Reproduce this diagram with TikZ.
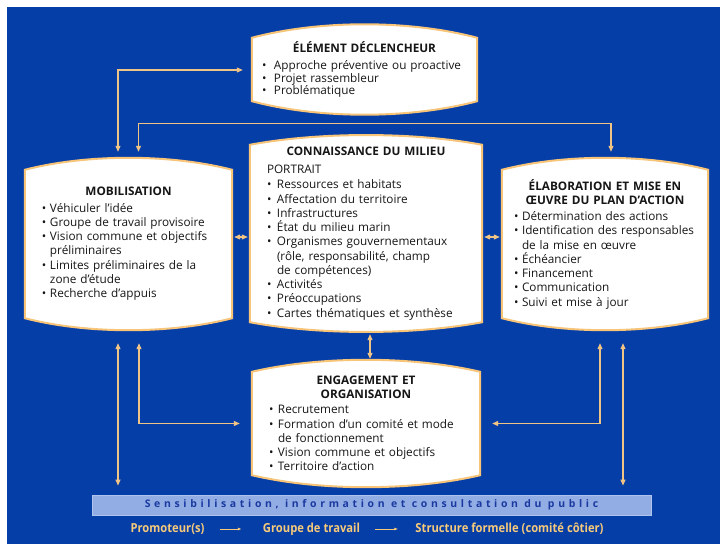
\documentclass[tikz,border=0pt]{standalone}
\usepackage{fontspec}
\setmainfont{Open Sans}
\newfontfamily\legfont[FakeStretch=0.9]{Open Sans}
\newfontfamily\barfont[LetterSpace=35]{Open Sans}
\usetikzlibrary{calc,arrows.meta}
\definecolor{bgblue}{RGB}{6,62,168}
\definecolor{arrc}{RGB}{240,196,132}
\definecolor{edgec}{RGB}{247,196,120}
\definecolor{txtc}{RGB}{22,22,22}
\definecolor{barfill}{RGB}{146,172,228}
\definecolor{baredge}{RGB}{175,195,238}
\definecolor{bartxt}{RGB}{26,58,160}
\definecolor{legc}{RGB}{246,202,122}
\pgfdeclarelayer{back}
\pgfdeclarelayer{shapes}
\pgfsetlayers{back,shapes,main}
\newlength\bind
\newcommand\bitem[1]{\par\hangindent=\bind\hangafter=1\noindent\makebox[\bind][l]{\textbullet}#1}
\newcommand\btitle[1]{{\centering\bfseries #1\par}}
\newcommand\loose{\rightskip=-40bp plus 1fil\relax}
\newcommand\bulgeshape[2]{%
  \draw[boxline] (#1.north west)
    .. controls ($(#1.north west)!0.3!(#1.north east)+(0,-#2)$) and ($(#1.north west)!0.7!(#1.north east)+(0,-#2)$) .. (#1.north east)
    -- (#1.south east)
    .. controls ($(#1.south west)!0.7!(#1.south east)+(0,#2)$) and ($(#1.south west)!0.3!(#1.south east)+(0,#2)$) .. (#1.south west)
    -- cycle;}
\tikzset{
  box/.style={inner sep=0pt, text width=#1, align=left, text=txtc,
    font=\fontsize{11.8}{14.3}\selectfont},
  boxline/.style={fill=white, draw=edgec, line width=2bp},
  arr/.style={draw=arrc, line width=1.1bp,
    {Triangle[length=6bp,width=5bp]}-{Triangle[length=6bp,width=5bp]}},
  legend/.style={inner sep=0pt, text=legc, font=\legfont\bfseries\fontsize{12.5}{14}\selectfont},
  legarr/.style={draw=legc, line width=0.8bp, -{Latex[length=4bp,width=3bp]}},
  barbox/.style={fill=barfill, draw=baredge, line width=0.8bp, minimum width=559bp,
    minimum height=20bp, inner sep=0pt, text=bartxt,
    font=\barfont\bfseries\fontsize{10.5}{12}\selectfont}
}
\begin{document}
\begin{tikzpicture}[x=1bp,y=-1bp]
\begin{pgfonlayer}{back}
\fill[white] (0,0) rectangle (720,544);
\fill[bgblue] (7,7) rectangle (720,544);
\end{pgfonlayer}
\useasboundingbox (0,0) rectangle (720,544);

% boxes
\node[box=205bp, minimum width=225bp, minimum height=63bp,
  font=\fontsize{11.8}{13}\selectfont] (elem) at (364.5,69.5) {%
  \setlength\bind{12bp}\loose
  \btitle{ÉLÉMENT DÉCLENCHEUR}\vspace{4bp}
  \bitem{Approche préventive ou proactive}
  \bitem{Projet rassembleur}
  \bitem{Problématique}};

\node[box=173bp, minimum width=207bp, minimum height=148bp] (mob) at (128.5,244) {%
  \setlength\bind{8bp}\loose
  \btitle{MOBILISATION}\vspace{2bp}
  \bitem{Véhiculer l’idée}
  \bitem{Groupe de travail provisoire}
  \bitem{Vision commune et objectifs\newline préliminaires}
  \bitem{Limites préliminaires de la\newline zone d’étude}
  \bitem{Recherche d’appuis}};

\node[box=198bp, minimum width=232bp, minimum height=177bp] (conn) at (366,233.5) {%
  \setlength\bind{10bp}\loose
  \btitle{CONNAISSANCE DU MILIEU}\vspace{4bp}
  PORTRAIT\par\vspace{1bp}
  \bitem{Ressources et habitats}
  \bitem{Affectation du territoire}
  \bitem{Infrastructures}
  \bitem{État du milieu marin}
  \bitem{Organismes gouvernementaux\newline (rôle, responsabilité, champ\newline de compétences)}
  \bitem{Activités}
  \bitem{Préoccupations}
  \bitem{Cartes thématiques et synthèse}};

\node[box=182bp, minimum width=206bp, minimum height=148bp] (plan) at (605,244) {%
  \setlength\bind{8bp}\loose
  \btitle{ÉLABORATION ET MISE EN\\ ŒUVRE DU PLAN D’ACTION}\vspace{2bp}
  \bitem{Détermination des actions}
  \bitem{Identification des responsables\newline de la mise en œuvre}
  \bitem{Échéancier}
  \bitem{Financement}
  \bitem{Communication}
  \bitem{Suivi et mise à jour}};

\node[box=194bp, minimum width=228bp, minimum height=103bp] (eng) at (366,423.5) {%
  \setlength\bind{9bp}\loose
  \btitle{ENGAGEMENT ET\\ ORGANISATION}\vspace{1bp}
  \bitem{Recrutement}
  \bitem{Formation d’un comité et mode\newline de fonctionnement}
  \bitem{Vision commune et objectifs}
  \bitem{Territoire d’action}};

\begin{pgfonlayer}{shapes}
\bulgeshape{elem}{18}
\bulgeshape{mob}{16}
\bulgeshape{conn}{13}
\bulgeshape{plan}{16}
\bulgeshape{eng}{16}
\end{pgfonlayer}

% bar and legend
\node[barbox] (bar) at (371.5,505) {Sensibilisation, information et consultation du public};
\node[legend] (p1) at (167.5,529) {Promoteur(s)};
\node[legend] (p2) at (311.5,529) {Groupe de travail};
\node[legend] (p3) at (509.5,529) {Structure formelle (comité côtier)};
\draw[legarr] ($(p1.east)+(15,0)$) -- ($(p2.west)+(-21,0)$);
\draw[legarr] ($(p2.east)+(15,0)$) -- ($(p3.west)+(-17,0)$);

% connectors
\draw[arr] ($(mob.north)+(-10.5,-18)$) |- ($(elem.west)+(-9,0.5)$);
\draw[arr] ($(mob.north)+(10,-18)$) |- ($(elem.south)+(0,22)$) -| ($(plan.north)+(6,-18)$);
\draw[arr] ($(conn.west -| mob.east)+(2,3.5)$) -- ($(conn.west)+(-2,3.5)$);
\draw[arr] ($(conn.east)+(2,3.5)$) -- ($(conn.east -| plan.west)+(-2,3.5)$);
\draw[arr] ($(conn.south)+(4,12)$) -- ($(eng.north)+(4,-13)$);
\draw[arr] ($(mob.south)+(-10.5,25)$) -- ($(mob.south |- bar.north)+(-10.5,-9)$);
\draw[arr] ($(mob.south)+(10.5,25)$) |- ($(eng.west)+(-12,0)$);
\draw[arr] ($(plan.south)+(-5,25)$) |- ($(eng.east)+(12,0)$);
\draw[arr] ($(plan.south)+(18,25)$) -- ($(plan.south |- bar.north)+(18,-9)$);
\end{tikzpicture}
\end{document}
